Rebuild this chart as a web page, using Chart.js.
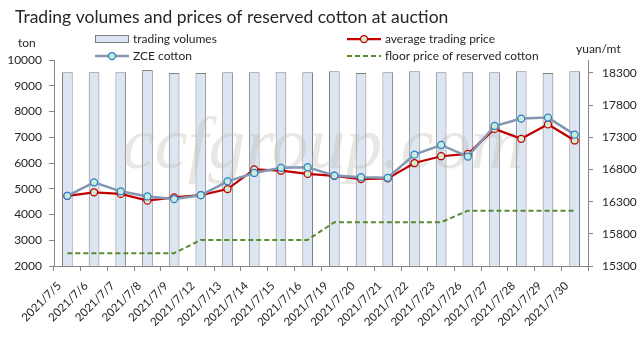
<!DOCTYPE html>
<html>
<head>
<meta charset="utf-8">
<script src="https://cdn.jsdelivr.net/npm/chart.js@4.4.0/dist/chart.umd.min.js"></script>
<style>
  body { margin: 0; background: #fff; }
  #wrap { width: 643px; height: 341px; }
</style>
</head>
<body>
<div id="wrap"><canvas id="chart" width="643" height="341"></canvas></div>
<script>
// data
const dates = ["2021/7/5", "2021/7/6", "2021/7/7", "2021/7/8", "2021/7/9", "2021/7/12", "2021/7/13", "2021/7/14", "2021/7/15", "2021/7/16",
    "2021/7/19", "2021/7/20", "2021/7/21", "2021/7/22", "2021/7/23", "2021/7/26", "2021/7/27", "2021/7/28", "2021/7/29", "2021/7/30"];
const volumes = [9520, 9520, 9520, 9610, 9495, 9495, 9520, 9520, 9520, 9520,
    9560, 9495, 9520, 9560, 9520, 9520, 9520, 9560, 9495, 9560];
const avgPrice = [16390, 16445, 16420, 16315, 16365, 16400, 16495, 16800, 16780, 16730,
    16700, 16650, 16660, 16900, 17005, 17040, 17430, 17275, 17500, 17250];
const zcePrice = [16390, 16600, 16460, 16380, 16340, 16400, 16615, 16745, 16825, 16835,
    16705, 16680, 16670, 17030, 17180, 17000, 17475, 17590, 17605, 17340];
const floorPrice = [15500, 15500, 15500, 15500, 15500, 15705, 15705, 15705, 15705, 15705,
    15980, 15980, 15980, 15980, 15980, 16160, 16160, 16160, 16160, 16160];
const leftTicks = [2000, 3000, 4000, 5000, 6000, 7000, 8000, 9000, 10000];
const rightTicks = [15300, 15800, 16300, 16800, 17300, 17800, 18300];

const txtFont = "Lato";
const axisColor = "#868686";

const legendItems = [
    {label: "trading volumes", kind: "box", x: 95, y: 39},
    {label: "average trading price", kind: "avg", x: 347, y: 39},
    {label: "ZCE cotton", kind: "zce", x: 95, y: 56},
    {label: "floor price of reserved cotton", kind: "floor", x: 347, y: 56}
];

// watermark goes right after the bars, under the lines
const watermark = {
    id: "watermark",
    afterDatasetDraw(chart, args) {
        if (args.index !== 0) return;
        const ctx = chart.ctx;
        ctx.save();
        ctx.font = 'italic 74px "Liberation Serif"';
        ctx.fillStyle = "rgba(185,185,180,0.35)";
        ctx.textBaseline = "alphabetic";
        ctx.fillText("ccfgroup.com", 122, 168);
        ctx.restore();
    }
};

const extras = {
    id: "extras",
    afterDraw(chart) {
        const ctx = chart.ctx;
        ctx.save();
        // title
        ctx.fillStyle = "#262626";
        ctx.font = `17.5px ${txtFont}`;
        ctx.textBaseline = "middle";
        ctx.textAlign = "left";
        ctx.fillText("Trading volumes and prices of reserved cotton at auction", 15, 17);

        // units
        ctx.font = `12px ${txtFont}`;
        ctx.fillStyle = "#262626";
        ctx.fillText("ton", 18, 43);
        ctx.fillText("yuan/mt", 576, 49);

        // legend
        legendItems.forEach(it => {
            const x = it.x, y = it.y;
            if (it.kind === "box") {
                ctx.fillStyle = "#dce6f2";
                ctx.strokeStyle = "#7f7f7f";
                ctx.lineWidth = 1;
                ctx.fillRect(x + 0.5, y - 3.5, 33, 7);
                ctx.strokeRect(x + 0.5, y - 3.5, 33, 7);
            } else if (it.kind === "floor") {
                ctx.strokeStyle = "#5a8a32";
                ctx.lineWidth = 2;
                ctx.setLineDash([5, 3]);
                ctx.beginPath();
                ctx.moveTo(x, y);
                ctx.lineTo(x + 34, y);
                ctx.stroke();
                ctx.setLineDash([]);
            } else {
                const red = it.kind === "avg";
                ctx.strokeStyle = red ? "#c00000" : "#8497b0";
                ctx.lineWidth = red ? 2.25 : 2.5;
                ctx.beginPath();
                ctx.moveTo(x, y);
                ctx.lineTo(x + 34, y);
                ctx.stroke();
                ctx.fillStyle = red ? "#d6ecd0" : "#c8ecd8";
                ctx.strokeStyle = red ? "#c00000" : "#2a7fd0";
                ctx.lineWidth = 1.25;
                ctx.beginPath();
                ctx.arc(x + 17, y, 3.5, 0, Math.PI * 2);
                ctx.fill();
                ctx.stroke();
            }
            ctx.fillStyle = "#262626";
            ctx.font = `12px ${txtFont}`;
            ctx.fillText(it.label, x + 38, y);
        });
        ctx.restore();
    }
};

const plainNum = (v) => String(v);

const ctx = document.getElementById("chart");
const chart = new Chart(ctx, {
    data: {
        labels: dates,
        datasets: [
            {
                type: "bar",
                label: "trading volumes",
                data: volumes,
                yAxisID: "y",
                backgroundColor: "#dce6f2",
                borderColor: "#7f7f7f",
                borderWidth: 1,
                barPercentage: 0.8,
                categoryPercentage: 0.5,
                order: 4
            },
            {
                type: "line",
                label: "average trading price",
                data: avgPrice,
                yAxisID: "y1",
                borderColor: "#c00000",
                borderWidth: 2.25,
                pointRadius: 3.5,
                pointBackgroundColor: "#d6ecd0",
                pointBorderColor: "#c00000",
                pointBorderWidth: 1.25,
                tension: 0,
                order: 2
            },
            {
                type: "line",
                label: "ZCE cotton",
                data: zcePrice,
                yAxisID: "y1",
                borderColor: "#8497b0",
                borderWidth: 2.5,
                pointRadius: 3.5,
                pointBackgroundColor: "#c8ecd8",
                pointBorderColor: "#2a7fd0",
                pointBorderWidth: 1.25,
                tension: 0,
                order: 1
            },
            {
                type: "line",
                label: "floor price of reserved cotton",
                data: floorPrice,
                yAxisID: "y1",
                borderColor: "#5a8a32",
                borderWidth: 2,
                borderDash: [5, 3],
                pointRadius: 0,
                tension: 0,
                order: 3
            }
        ]
    },
    options: {
        responsive: false,
        animation: false,
        layout: {padding: {top: 60, left: 0, right: 0, bottom: 0}},
        plugins: {
            legend: {display: false},
            title: {display: false},
            tooltip: {enabled: false}
        },
        scales: {
            x: {
                offset: true,
                grid: {offset: true, drawOnChartArea: false, tickLength: 5, color: axisColor},
                border: {color: axisColor},
                ticks: {
                    maxRotation: 45, minRotation: 45,
                    autoSkip: false,
                    color: "#262626",
                    padding: 8,
                    labelOffset: -8,
                    font: {family: txtFont, size: 11.5}
                },
                afterFit: (s) => { s.height = 75; }
            },
            y: {
                position: "left",
                min: 2000, max: 10000,
                grid: {drawOnChartArea: false, tickLength: 5, color: axisColor},
                border: {color: axisColor},
                ticks: {color: "#262626", padding: 7, font: {family: txtFont, size: 12}, callback: plainNum},
                afterBuildTicks: (s) => { s.ticks = leftTicks.map(v => ({value: v})); },
                afterFit: (s) => { s.width = 54; }
            },
            y1: {
                position: "right",
                min: 15300, max: 18500,
                grid: {drawOnChartArea: false, tickLength: 5, color: axisColor},
                border: {color: axisColor},
                ticks: {color: "#262626", padding: 9, font: {family: txtFont, size: 12}, callback: plainNum},
                afterBuildTicks: (s) => { s.ticks = rightTicks.map(v => ({value: v})); },
                afterFit: (s) => { s.width = 55; }
            }
        }
    },
    plugins: [watermark, extras]
});
</script>
</body>
</html>
